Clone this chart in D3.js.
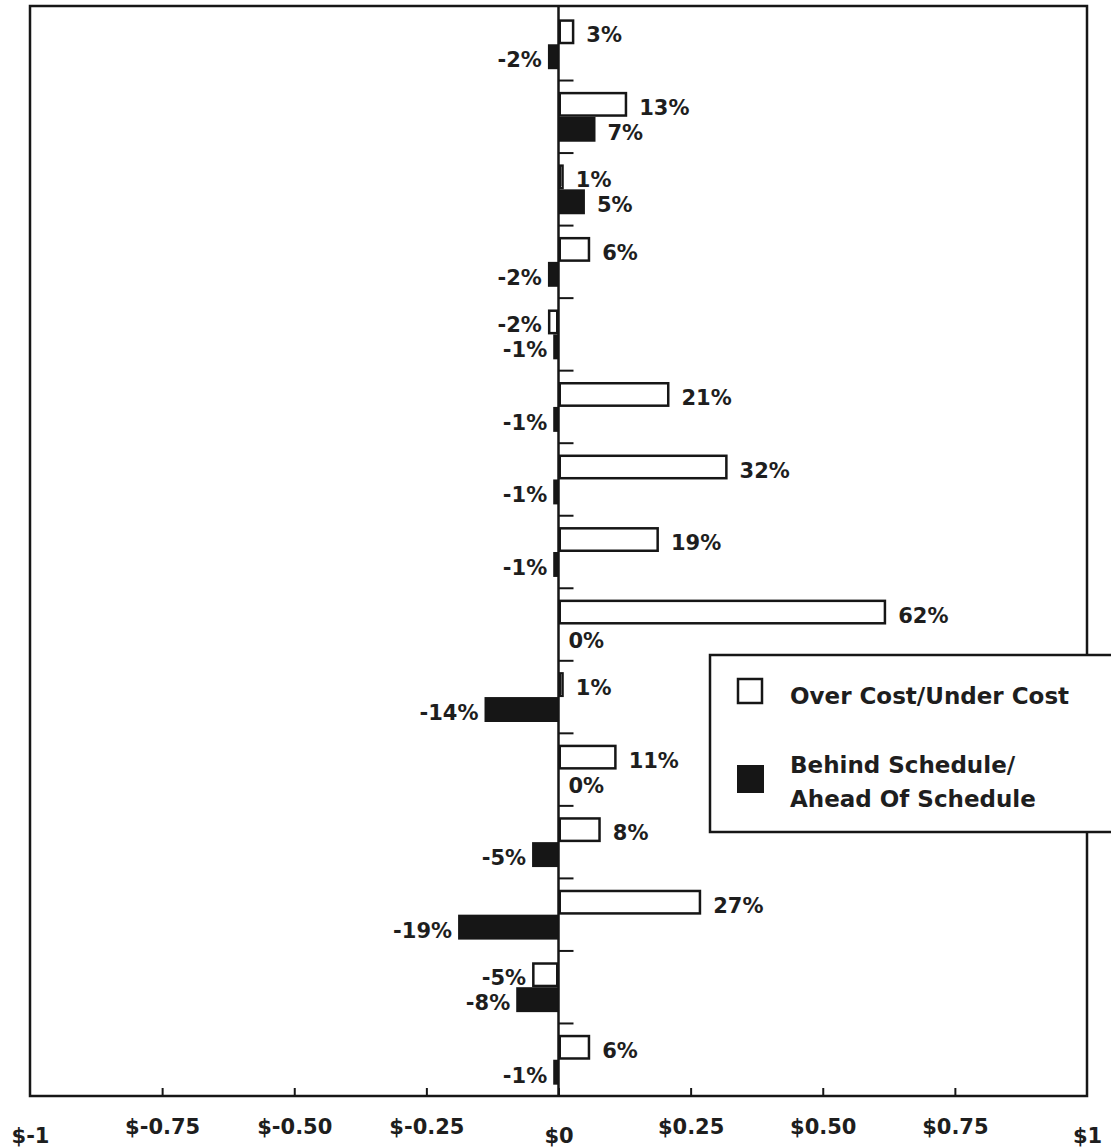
<!DOCTYPE html>
<html>
<head>
<meta charset="utf-8">
<script src="https://d3js.org/d3.v7.min.js"></script>
<style>
  html, body { margin: 0; padding: 0; background: #fff; }
  svg { display: block; }
  text { font-family: "DejaVu Sans", sans-serif; font-weight: bold; fill: #1e1e1e; }
</style>
</head>
<body>
<svg id="chart" width="1111" height="1148"></svg>
<script>
// ---- data ----
const categories = ["P1","P2","P3","P4","P5","P6","P7","P8","P9","P10","P11","P12","P13","P14","P15"];
const costValues = [0.03, 0.13, 0.01, 0.06, -0.02, 0.21, 0.32, 0.19, 0.62, 0.01, 0.11, 0.08, 0.27, -0.05, 0.06];
const scheduleValues = [-0.02, 0.07, 0.05, -0.02, -0.01, -0.01, -0.01, -0.01, 0, -0.14, 0, -0.05, -0.19, -0.08, -0.01];
const seriesNames = ["Over Cost/Under Cost", "Behind Schedule/|Ahead Of Schedule"];
const tickValues = [-1, -0.75, -0.5, -0.25, 0, 0.25, 0.5, 0.75, 1];
const tickLabels = ["$-1", "$-0.75", "$-0.50", "$-0.25", "$0", "$0.25", "$0.50", "$0.75", "$1"];

// ---- layout ----
const svg = d3.select("#chart");
const frame = { left: 30, right: 1087, top: 6, bottom: 1096 };
const ink = "#161616";

const x = d3.scaleLinear().domain([-1, 1]).range([frame.left, frame.right]);
const y = d3.scaleBand().domain(categories).range([8, frame.bottom]).padding(0);
const ySeries = d3.scaleBand().domain(["cost", "schedule"]).range([0, y.bandwidth()])
  .paddingInner(0).paddingOuter(0.4545);

const rows = categories.map((c, i) => ({ cat: c, cost: costValues[i], schedule: scheduleValues[i] }));
const bars = [];
rows.forEach(r => {
  bars.push({ cat: r.cat, key: "cost", v: r.cost });
  bars.push({ cat: r.cat, key: "schedule", v: r.schedule });
});

// frame
svg.append("rect")
  .attr("x", frame.left).attr("y", frame.top)
  .attr("width", frame.right - frame.left).attr("height", frame.bottom - frame.top)
  .attr("fill", "none").attr("stroke", ink).attr("stroke-width", 2.5);

// bottom axis
const axis = d3.axisBottom(x)
  .tickValues(tickValues)
  .tickSize(-8)
  .tickPadding(0)
  .tickFormat((d, i) => tickLabels[i]);
const gAxis = svg.append("g").attr("transform", `translate(0,${frame.bottom})`).call(axis);
gAxis.select(".domain").remove();
gAxis.selectAll(".tick line").attr("stroke", ink).attr("stroke-width", 2);
gAxis.selectAll(".tick").filter(d => d === -1 || d === 1).select("line").remove();
gAxis.selectAll(".tick text")
  .attr("fill", "#1e1e1e")
  .style("font-family", "'DejaVu Sans', sans-serif")
  .style("font-weight", "bold")
  .style("font-size", "21px")
  .attr("dy", null)
  .attr("y", d => Number.isInteger(d) ? 47 : 38);

// bars
const gBars = svg.append("g");
gBars.selectAll("rect.bar").data(bars.filter(b => b.v !== 0)).join("rect")
  .attr("class", "bar")
  .attr("x", d => Math.min(x(0), x(d.v)) + (d.key === "cost" ? 1.25 : 0))
  .attr("y", d => y(d.cat) + ySeries(d.key) + (d.key === "cost" ? 1.25 : 0))
  .attr("width", d => Math.max(1, Math.abs(x(d.v) - x(0)) - (d.key === "cost" ? 2.5 : 0)))
  .attr("height", d => ySeries.bandwidth() - (d.key === "cost" ? 2.5 : 0))
  .attr("fill", d => d.key === "cost" ? "#fff" : ink)
  .attr("stroke", ink)
  .attr("stroke-width", d => d.key === "cost" ? 2.5 : 0);

// zero axis
svg.append("line")
  .attr("x1", x(0)).attr("x2", x(0))
  .attr("y1", frame.top).attr("y2", frame.bottom)
  .attr("stroke", ink).attr("stroke-width", 2.5);

// group separator ticks on zero axis
svg.append("g").selectAll("line").data(categories.slice(1)).join("line")
  .attr("x1", x(0)).attr("x2", x(0) + 15)
  .attr("y1", d => y(d)).attr("y2", d => y(d))
  .attr("stroke", ink).attr("stroke-width", 2);

// value labels
const fmt = v => Math.round(v * 100) + "%";
svg.append("g").selectAll("text").data(bars).join("text")
  .attr("x", d => d.v > 0 ? x(d.v) + 12 : (d.v < 0 ? x(d.v) - 6 : x(0) + 10))
  .attr("y", d => y(d.cat) + ySeries(d.key) + ySeries.bandwidth() / 2 + 3)
  .attr("dy", "0.36em")
  .attr("text-anchor", d => d.v < 0 ? "end" : "start")
  .style("font-size", "21px")
  .text(d => fmt(d.v));

// legend
const lg = svg.append("g");
lg.append("rect")
  .attr("x", 710).attr("y", 655).attr("width", 420).attr("height", 177)
  .attr("fill", "#fff").attr("stroke", ink).attr("stroke-width", 2.5);
lg.append("rect")
  .attr("x", 738).attr("y", 679).attr("width", 24).attr("height", 24)
  .attr("fill", "#fff").attr("stroke", ink).attr("stroke-width", 2.5);
lg.append("rect")
  .attr("x", 737).attr("y", 765).attr("width", 27).attr("height", 28)
  .attr("fill", ink);
lg.append("text").attr("x", 790).attr("y", 704).style("font-size", "23px").text(seriesNames[0]);
const t2 = lg.append("text").attr("x", 790).attr("y", 773).style("font-size", "23px");
seriesNames[1].split("|").forEach((s, i) => {
  t2.append("tspan").attr("x", 790).attr("dy", i === 0 ? 0 : 34).text(s);
});
</script>
</body>
</html>
